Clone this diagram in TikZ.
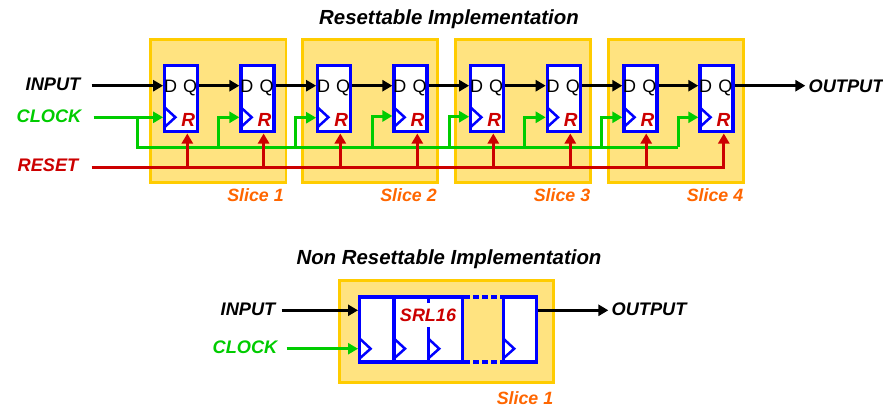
\documentclass[tikz,border=0pt]{standalone}
\usepackage{fontspec}
\setmainfont{Liberation Sans}
\usetikzlibrary{arrows.meta}
\definecolor{slicefill}{HTML}{FFE380}
\definecolor{sliceedge}{HTML}{FFCC00}
\definecolor{wgreen}{HTML}{00CC00}
\definecolor{wred}{HTML}{CC0000}
\definecolor{wblue}{HTML}{0000FF}
\definecolor{worange}{HTML}{FF6600}
\tikzset{
  txt/.style={inner sep=0pt,font=\fontsize{18.2}{20}\selectfont\bfseries\itshape},
  heading/.style={inner sep=0pt,font=\fontsize{20.4}{22}\selectfont\bfseries\itshape},
  slicelabel/.style={inner sep=0pt,text=worange,font=\fontsize{17.8}{20}\selectfont\bfseries\itshape},
  slicebox/.style={draw=sliceedge,fill=slicefill,line width=2.8pt,minimum width=135.6pt,minimum height=143pt,inner sep=0pt},
  lowslice/.style={draw=sliceedge,fill=slicefill,line width=2.8pt,minimum width=214.5pt,minimum height=102.5pt,inner sep=0pt},
  ffbox/.style={draw=wblue,fill=white,line width=3.2pt,minimum width=33pt,minimum height=65.6pt,inner sep=0pt},
  srbox/.style={draw=wblue,fill=white,line width=3.2pt,minimum height=65pt,inner sep=0pt},
  pin/.style={inner sep=0pt,anchor=base,font=\fontsize{18}{20}\selectfont},
  rpin/.style={inner sep=0pt,text=wred,font=\fontsize{19}{20}\selectfont\bfseries\itshape},
  clk/.style={draw=wblue,line width=2.5pt,line join=miter},
  tip/.style={-{Triangle[length=10pt,width=11pt]}},
  sig/.style={black,line width=3pt,tip},
  cksig/.style={wgreen,line width=3pt,tip},
  ckbus/.style={wgreen,line width=3pt},
  rsig/.style={wred,line width=3pt,tip},
  rbus/.style={wred,line width=3pt},
  gapline/.style={wblue,line width=3.2pt,dash pattern=on 5.5pt off 3.5pt}
}
\begin{document}
\begin{tikzpicture}[x=1pt,y=-1pt]
\useasboundingbox (0,0) rectangle (883,407);
% titles
\node[heading] (title1) at (449,19) {Resettable Implementation};
\node[heading] (title2) at (449,259) {Non Resettable Implementation};
% slices
\foreach \i/\x/\l in {1/218.2/255.5,2/370/408.5,3/523/562,4/676/715}{
  \node[slicebox] (slice\i) at (\x,110.7) {};
  \node[slicelabel] (slicelab\i) at (\l,195) {Slice \i};
}
% labels
\node[txt] (input) at (53,84) {INPUT};
\node[txt,text=wgreen] (clock) at (49,116) {CLOCK};
\node[txt,text=wred] (reset) at (48,165) {RESET};
\node[txt] (output) at (846,86) {OUTPUT};
% flip-flops: index / centre x / clock riser x / clock riser top y / reset riser x
\foreach \i/\x/\cx/\cy/\rx in {1/181.2/137/117.3/187.3,2/257.5/218/117.3/263.6,3/334.2/295/117.7/340.3,4/410.5/372.3/116/417.3,5/487.2/449/116.7/493.3,6/563.8/524.5/117.3/570.3,7/640.4/601.5/117.3/646.2,8/716.4/678.2/117.3/723.8}{
  \node[ffbox] (ff\i) at (\x,98.5) {};
  \node[pin] (d\i) at (\x-10.7,92) {D};
  \node[pin] (q\i) at (\x+9,92) {Q};
  \node[rpin] (r\i) at (\x+7,120) {R};
  \coordinate (dpt\i) at (ff\i.west |- 0,85.7);
  \coordinate (qpt\i) at (ff\i.east |- 0,85.7);
  \coordinate (cpt\i) at (ff\i.west |- 0,\cy);
  \coordinate (rpt\i) at (\rx,133.5);
  \coordinate (rbase\i) at (\rx,167);
  \coordinate (cbase\i) at (\cx,147);
  \coordinate (ctop\i) at (\cx,\cy);
  \draw[clk] (\x-16.5,107.5) -- (\x-5.8,117.3) -- (\x-16.5,127);
}
% data path
\draw[sig] ([xshift=11pt]input.east |- dpt1) -- (dpt1);
\foreach \a/\b in {1/2,2/3,3/4,4/5,5/6,6/7,7/8}{
  \draw[sig] (qpt\a) -- (dpt\b);
}
\draw[sig] (qpt8) -- ([xshift=-3pt]output.west |- qpt8);
% clock
\draw[cksig] ([xshift=12pt]clock.east |- cpt1) -- (cpt1);
\draw[ckbus] (ctop1) -- (cbase1) -- (cbase8);
\foreach \i in {2,...,8}{
  \draw[cksig] (cbase\i) -- (ctop\i) -- (cpt\i);
}
% reset
\draw[rbus] ([xshift=13pt]reset.east |- rbase1) -- ([xshift=1.5pt]rbase8);
\foreach \i in {1,...,8}{
  \draw[rsig] (rbase\i) -- (rpt\i);
}
% lower part
\node[lowslice] (lslice) at (446.5,331.5) {};
\node[txt] (linput) at (248,309) {INPUT};
\node[txt,text=wgreen] (lclock) at (245,347) {CLOCK};
\node[txt] (loutput) at (649,309) {OUTPUT};
\node[slicelabel] (lslicelab) at (525,398) {Slice 1};
\node[srbox,minimum width=34.4pt] (sr1) at (376.8,329.5) {};
\node[srbox,minimum width=34.4pt] (sr2) at (411.2,329.5) {};
\node[srbox,minimum width=34.4pt] (sr3) at (445.4,329.5) {};
\node[srbox,minimum width=33.7pt] (sr4) at (520,329.5) {};
\draw[gapline] (sr3.north east) ++(0,1.6) -- ([yshift=-1.6pt]sr4.north west);
\draw[gapline] (sr3.south east) ++(0,-1.6) -- ([yshift=1.6pt]sr4.south west);
\node[inner sep=0.5pt,fill=white,text=wred,minimum height=24pt,font=\fontsize{18}{20}\selectfont\bfseries\itshape] (srl) at (428,315) {SRL16};
\foreach \x in {359.6,394,428.2,503.2}{
  \draw[clk] (\x,338.5) -- (\x+11,348.7) -- (\x,358.5);
}
\draw[sig] ([xshift=6pt]linput.east |- 0,310.3) -- (sr1.west |- 0,310.3);
\draw[cksig] ([xshift=9pt]lclock.east |- 0,348.7) -- (sr1.west |- 0,348.7);
\draw[sig] (sr4.east |- 0,310.3) -- ([xshift=-3pt]loutput.west |- 0,310.3);
\end{tikzpicture}
\end{document}
